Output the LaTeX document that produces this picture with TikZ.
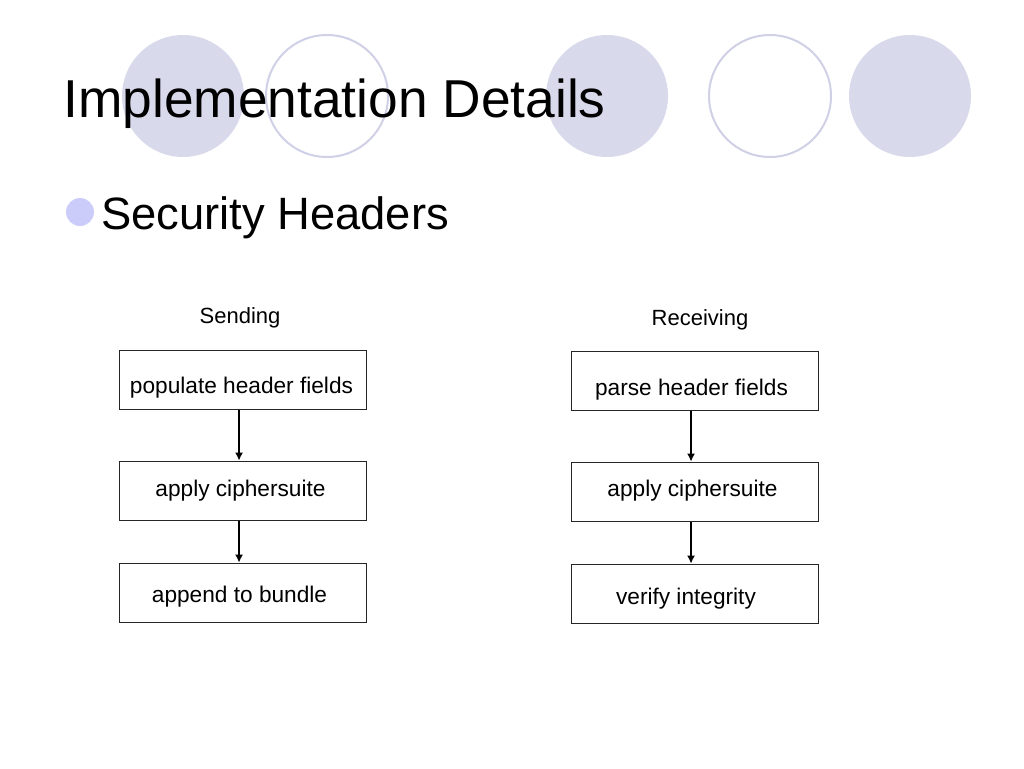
\documentclass[tikz,border=0pt]{standalone}
\usepackage{fontspec}
\setmainfont{Liberation Sans}
\usepackage{xcolor}
\usetikzlibrary{positioning,arrows.meta}
\definecolor{lavender}{RGB}{217,217,236}
\definecolor{lavline}{RGB}{208,208,230}
\definecolor{bulletblue}{RGB}{204,204,250}
\begin{document}
\begin{tikzpicture}[>={Latex[length=6pt,width=6pt]}, x=0.75pt, y=-0.75pt]

                \tikzset{% styles for the slide
                    disc/.style={circle,minimum size=122*0.75pt,inner sep=0pt,fill=lavender},
                    ring/.style={circle,minimum size=122*0.75pt,inner sep=0pt,draw=lavline,line width=1.5pt,fill=white},
                    stepbox/.style={rectangle,draw=black!85,line width=0.75pt,minimum width=247*0.75pt,
                                        minimum height=59*0.75pt,inner sep=0pt},
                    steptext/.style={font=\fontsize{17}{20}\selectfont,inner sep=0pt},
                    caption/.style={font=\fontsize{16.5}{20}\selectfont},
                    flow/.style={->,line width=0.9pt}}

                    \useasboundingbox (0,0) rectangle (1024,768);

                    % decorative circles
                    \node [disc](c_1) at (183,96) {};
                    \node [ring](c_2) at (327,96) {};
                    \node [disc](c_3) at (607,96) {};
                    \node [ring](c_4) at (770,96) {};
                    \node [disc](c_5) at (910,96) {};

                    \node [anchor=base west,inner sep=0pt,font=\fontsize{40}{48}\selectfont](title) at (63,117) {Implementation Details};
                    \node [circle,fill=bulletblue,minimum size=28*0.75pt,inner sep=0pt](bullet) at (80,212) {};
                    \node [anchor=base west,inner sep=0pt,font=\fontsize{34}{40}\selectfont](item) at (101,229) {Security Headers};

                    % sending side
                    \node [caption](send) at (240,318) {Sending};
                    \node [stepbox,label={[steptext,xshift=-0.75pt,yshift=-6pt]center:populate header fields}](s_1) at (242.5,379.5) {};
                    \node [stepbox,label={[steptext,xshift=-1.5pt,yshift=0pt]center:apply ciphersuite}](s_2) at (242.5,490.5) {};
                    \node [stepbox,label={[steptext,xshift=-2.25pt,yshift=-3pt]center:append to bundle}](s_3) at (242.5,592.5) {};

                    % receiving side
                    \node [caption](recv) at (700,320) {Receiving};
                    \node [stepbox,label={[steptext,xshift=-2.25pt,yshift=-6.5pt]center:parse header fields}](r_1) at (694.5,380.5) {};
                    \node [stepbox,label={[steptext,xshift=-1.5pt,yshift=0.75pt]center:apply ciphersuite}](r_2) at (694.5,491.5) {};
                    \node [stepbox,label={[steptext,xshift=-6.4pt,yshift=-3.75pt]center:verify integrity}](r_3) at (694.5,593.5) {};

                    \draw [flow] ([xshift=-2.6pt]s_1.south) -- ([xshift=-2.6pt]s_2.north);
                    \draw [flow] ([xshift=-2.6pt]s_2.south) -- ([xshift=-2.6pt]s_3.north);
                    \draw [flow] ([xshift=-2.6pt]r_1.south) -- ([xshift=-2.6pt]r_2.north);
                    \draw [flow] ([xshift=-2.6pt]r_2.south) -- ([xshift=-2.6pt]r_3.north);

            \end{tikzpicture}
\end{document}
